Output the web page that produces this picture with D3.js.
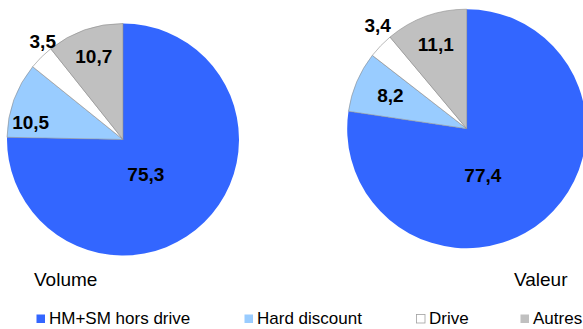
<!DOCTYPE html>
<html>
<head>
<meta charset="utf-8">
<script src="https://cdn.jsdelivr.net/npm/d3@7"></script>
<style>
  html, body { margin: 0; padding: 0; background: #fff; overflow: hidden; }
  svg { display: block; font-family: "Liberation Sans", Arial, sans-serif; }
</style>
</head>
<body>
<svg id="chart" width="583" height="329"></svg>
<script>
// ---- data ----
const categories = ["HM+SM hors drive", "Hard discount", "Drive", "Autres"];
const volumeValues = [75.3, 10.5, 3.5, 10.7];
const valeurValues = [77.4, 8.2, 3.4, 11.1];
const pieTitles = ["Volume", "Valeur"];
const colors = ["#3366FF", "#99CCFF", "#FFFFFF", "#C0C0C0"];

// ---- layout ----
const W = 583, H = 329;
const svg = d3.select("#chart");
const fmt = v => String(v).replace(".", ",");

const pies = [
  { values: volumeValues, title: pieTitles[0], cx: 123, cy: 139.5, r: 116,
    titleX: 34, titleY: 286,
    labelPos: [[0.197, 0.295], [-0.796, -0.153], [-0.692, -0.849], [-0.252, -0.717]] },
  { values: valeurValues, title: pieTitles[1], cx: 466.7, cy: 128.7, r: 119.5,
    titleX: 514, titleY: 286,
    labelPos: [[0.135, 0.390], [-0.639, -0.279], [-0.745, -0.868], [-0.259, -0.711]] }
];

const color = d3.scaleOrdinal().domain(categories).range(colors);
const pieGen = d3.pie().sort(null).value(d => d.v);

pies.forEach(p => {
  const data = categories.map((c, i) => ({ c, v: p.values[i] }));
  const arcs = pieGen(data);
  const arc = d3.arc().innerRadius(0).outerRadius(p.r);
  const g = svg.append("g").attr("transform", `translate(${p.cx},${p.cy})`);
  g.selectAll("path")
    .data(arcs)
    .join("path")
    .attr("d", arc)
    .attr("fill", d => color(d.data.c))
    .attr("stroke", (d, i) => i === 0 ? "none" : "#8c8c8c")
    .attr("stroke-width", 0.6);
  g.selectAll("text")
    .data(arcs)
    .join("text")
    .attr("x", (d, i) => p.labelPos[i][0] * p.r)
    .attr("y", (d, i) => p.labelPos[i][1] * p.r)
    .attr("dy", "0.36em")
    .attr("text-anchor", "middle")
    .attr("font-size", 19)
    .attr("font-weight", "bold")
    .attr("fill", "#000")
    .text(d => fmt(d.data.v));
  svg.append("text")
    .attr("x", p.titleX)
    .attr("y", p.titleY)
    .attr("font-size", 19)
    .attr("fill", "#000")
    .text(p.title);
});

// ---- legend ----
const legendX = [36, 244, 416, 520];
const legend = svg.append("g");
categories.forEach((c, i) => {
  const lg = legend.append("g").attr("transform", `translate(${legendX[i]},314)`);
  lg.append("rect")
    .attr("x", 0.5).attr("y", 0.5)
    .attr("width", 8.5).attr("height", 8.5)
    .attr("fill", color(c))
    .attr("stroke", i === 2 ? "#a0a0a0" : "none")
    .attr("stroke-width", 0.8);
  lg.append("text")
    .attr("x", 13)
    .attr("y", 10)
    .attr("font-size", 17)
    .attr("fill", "#000")
    .text(c);
});
</script>
</body>
</html>
